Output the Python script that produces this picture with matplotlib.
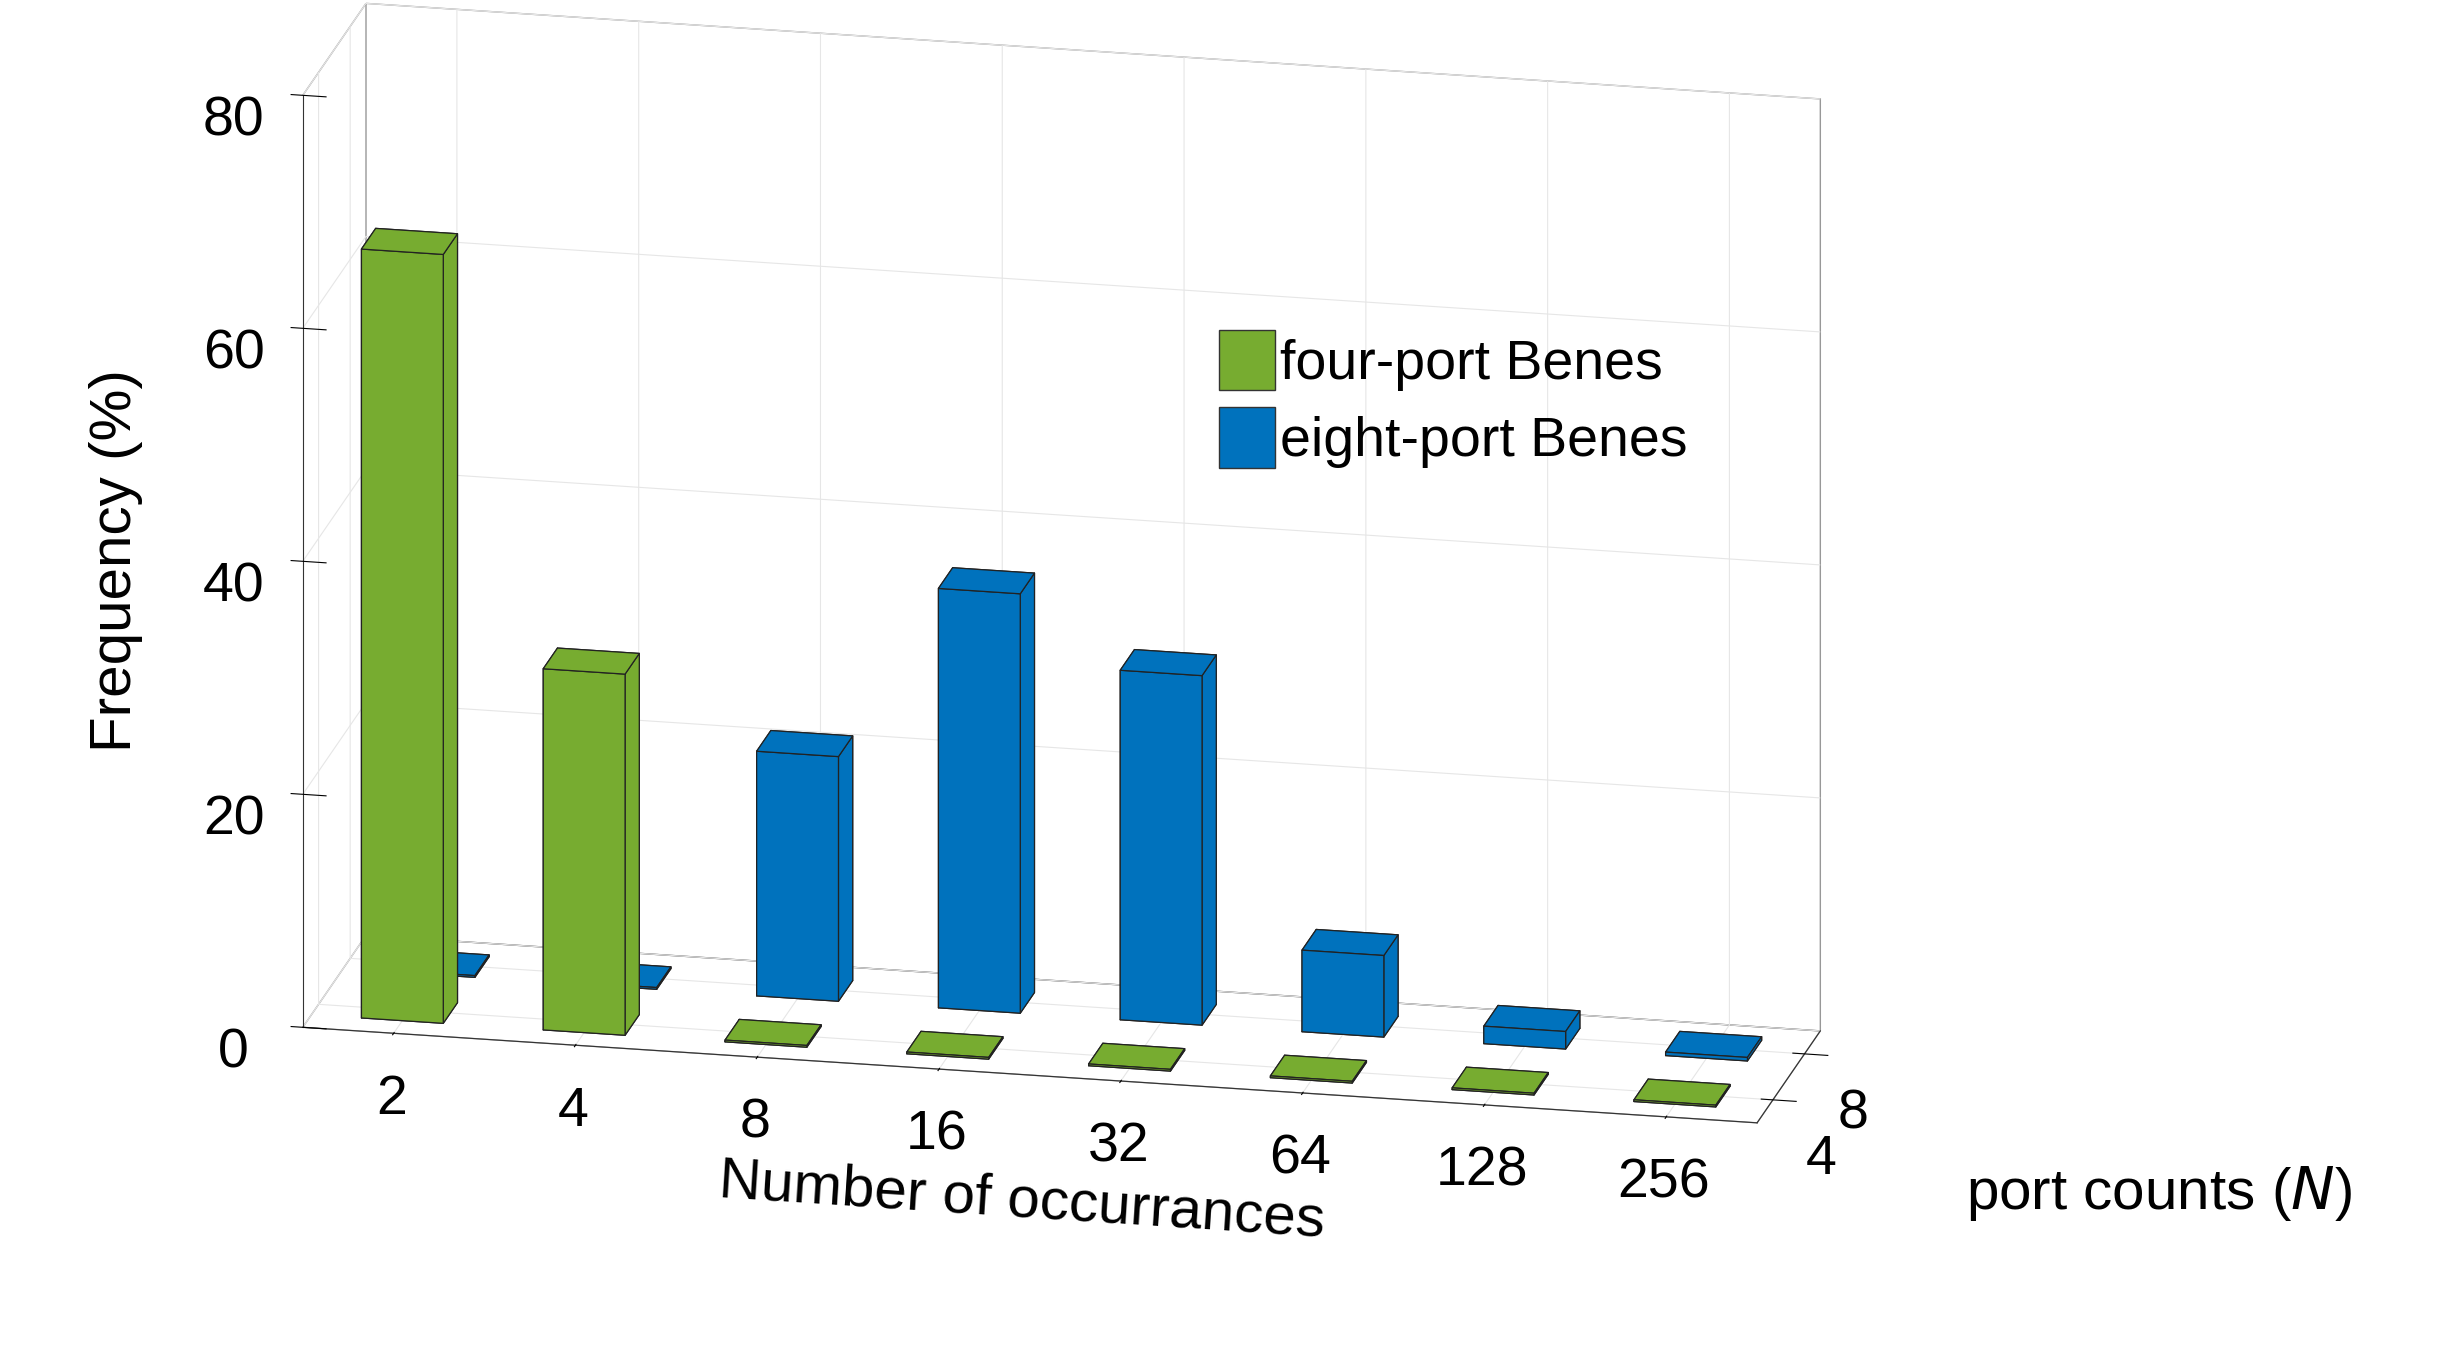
import numpy as np
import matplotlib.pyplot as plt
from matplotlib.patches import Patch

plt.rcParams['font.family'] = ['Liberation Sans', 'DejaVu Sans']

occurrences = ['2', '4', '8', '16', '32', '64', '128', '256']
ports = ['4', '8']
four_port = [66, 31, 0, 0, 0, 0, 0, 0]
eight_port = [0, 0, 21, 36, 30, 7, 1.5, 0.3]

green = '#77ac30'
blue = '#0072bd'

fig = plt.figure(figsize=(24.42, 13.49), dpi=100)
ax = fig.add_axes([-0.05, -0.085, 0.95, 1.30], projection='3d')
ax.set_proj_type('ortho')

n = len(occurrences)
xs = np.arange(n)
w = 0.45
for i in range(n):
    ax.bar3d(xs[i] - w / 2, 1 - w / 2, 0, w, w, max(eight_port[i], 0.15),
             color=blue, edgecolor='#222222', linewidth=0.9, shade=False)
for i in range(n):
    ax.bar3d(xs[i] - w / 2, 0 - w / 2, 0, w, w, max(four_port[i], 0.15),
             color=green, edgecolor='#222222', linewidth=0.9, shade=False)

ax.set_xlim(-0.5, n - 0.5)
ax.set_ylim(-0.5, 1.5)
ax.set_zlim(0, 80)
ax.set_xticks(xs)
ax.set_xticklabels(occurrences, fontsize=40)
ax.set_yticks([0, 1])
ax.set_yticklabels(ports, fontsize=40)
ax.set_zticks([0, 20, 40, 60, 80])
ax.set_zticklabels(['0', '20', '40', '60', '80'], fontsize=40)
ax.tick_params(axis='z', pad=22)
ax.tick_params(axis='x', pad=18)
ax.tick_params(axis='y', pad=14)
ax.set_xlabel('Number of occurrances', fontsize=42, labelpad=60)
ax.set_zlabel('Frequency (%)', fontsize=42, labelpad=60)
ax.view_init(elev=18, azim=-78)
ax.set_box_aspect((2.2, 0.45, 1.45))
ax.zaxis._axinfo['juggled'] = (1, 2, 0)
for a in (ax.xaxis, ax.yaxis, ax.zaxis):
    a.pane.fill = False
    a.pane.set_edgecolor('#333333')
    a._axinfo['grid']['color'] = '#e6e6e6'
    a.line.set_color('#333333')

fig.text(0.805, 0.115, 'port counts ($N$)', fontsize=42, ha='left', va='center')

ax.legend(handles=[Patch(facecolor=green, edgecolor='#333333', label='four-port Benes'),
                   Patch(facecolor=blue, edgecolor='#333333', label='eight-port Benes')],
          loc='upper left', bbox_to_anchor=(0.575, 0.675), frameon=False, fontsize=40,
          handlelength=1.0, handleheight=1.3, handletextpad=0.1, labelspacing=0.3)
fig.savefig('out.png')
